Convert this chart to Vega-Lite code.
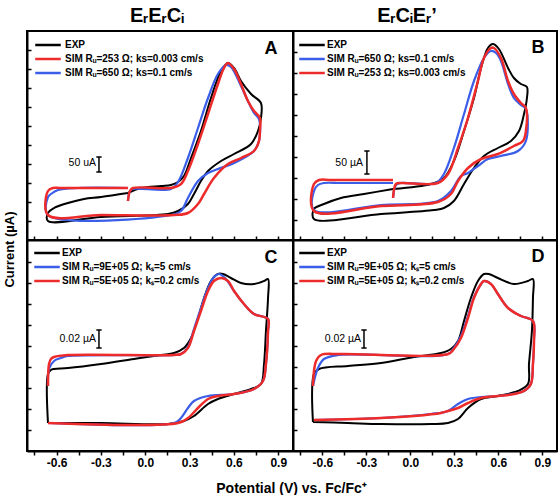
{
  "$schema": "https://vega.github.io/schema/vega-lite/v6.json",
  "padding": {"left": 2, "top": 5, "right": 3, "bottom": 0},
  "config": {
    "font": "Liberation Sans",
    "view": {"stroke": "black", "strokeWidth": 2},
    "line": {"interpolate": "catmull-rom", "strokeJoin": "round"},
    "axis": {"domainColor": "black", "domainWidth": 2, "tickColor": "black", "tickWidth": 1.5, "grid": false, "labelFont": "Liberation Sans", "labelFontWeight": "bold", "labelFontSize": 12, "labelColor": "black", "titleFont": "Liberation Sans", "titleFontWeight": "bold", "titleColor": "black"},
    "legend": {"symbolType": "M-1.7,0H1.7", "symbolSize": 225, "symbolStrokeWidth": 2.5, "rowPadding": 0, "padding": 0, "labelFontSize": 10, "labelFontWeight": "bold", "labelFont": "Liberation Sans", "labelColor": "black", "labelLimit": 300},
    "title": {"font": "Liberation Sans", "fontWeight": "bold", "fontSize": 20, "color": "black", "offset": 5}
  },
  "datasets": {
    "A_exp": [
      {"i":0,"v":-0.117,"c":141},{"i":1,"v":-0.029,"c":156},{"i":2,"v":0.107,"c":162},{"i":3,"v":0.174,"c":165},{"i":4,"v":0.222,"c":174},{"i":5,"v":0.262,"c":192},{"i":6,"v":0.310,"c":246},{"i":7,"v":0.377,"c":327},{"i":8,"v":0.445,"c":426},{"i":9,"v":0.513,"c":507},{"i":10,"v":0.560,"c":531},{"i":11,"v":0.601,"c":516},{"i":12,"v":0.648,"c":477},{"i":13,"v":0.716,"c":438},{"i":14,"v":0.783,"c":411},{"i":15,"v":0.783,"c":366},{"i":16,"v":0.763,"c":327},{"i":17,"v":0.716,"c":288},{"i":18,"v":0.601,"c":258},{"i":19,"v":0.513,"c":237},{"i":20,"v":0.425,"c":207},{"i":21,"v":0.377,"c":177},{"i":22,"v":0.330,"c":138},{"i":23,"v":0.289,"c":108},{"i":24,"v":0.222,"c":87},{"i":25,"v":0.154,"c":78},{"i":26,"v":-0.299,"c":69},{"i":27,"v":-0.658,"c":57},{"i":28,"v":-0.658,"c":81},{"i":29,"v":-0.617,"c":96},{"i":30,"v":-0.523,"c":111},{"i":31,"v":-0.414,"c":123},{"i":32,"v":-0.299,"c":129},{"i":33,"v":-0.117,"c":141}
    ],
    "A_red": [
      {"i":0,"v":-0.117,"c":117},{"i":1,"v":-0.103,"c":147},{"i":2,"v":-0.083,"c":156},{"i":3,"v":0.174,"c":156},{"i":4,"v":0.242,"c":168},{"i":5,"v":0.289,"c":207},{"i":6,"v":0.357,"c":288},{"i":7,"v":0.425,"c":378},{"i":8,"v":0.492,"c":468},{"i":9,"v":0.533,"c":516},{"i":10,"v":0.560,"c":531},{"i":11,"v":0.601,"c":513},{"i":12,"v":0.648,"c":468},{"i":13,"v":0.695,"c":417},{"i":14,"v":0.736,"c":387},{"i":15,"v":0.776,"c":366},{"i":16,"v":0.776,"c":327},{"i":17,"v":0.770,"c":297},{"i":18,"v":0.736,"c":267},{"i":19,"v":0.648,"c":246},{"i":20,"v":0.560,"c":228},{"i":21,"v":0.465,"c":186},{"i":22,"v":0.398,"c":138},{"i":23,"v":0.357,"c":108},{"i":24,"v":0.289,"c":81},{"i":25,"v":0.195,"c":75},{"i":26,"v":-0.299,"c":75},{"i":27,"v":-0.658,"c":75},{"i":28,"v":-0.658,"c":147},{"i":29,"v":-0.624,"c":156},{"i":30,"v":-0.570,"c":156},{"i":31,"v":-0.117,"c":156}
    ],
    "A_blue": [
      {"i":0,"v":-0.117,"c":117},{"i":1,"v":-0.103,"c":147},{"i":2,"v":-0.083,"c":153},{"i":3,"v":0.174,"c":153},{"i":4,"v":0.222,"c":174},{"i":5,"v":0.289,"c":246},{"i":6,"v":0.357,"c":336},{"i":7,"v":0.425,"c":426},{"i":8,"v":0.492,"c":498},{"i":9,"v":0.546,"c":525},{"i":10,"v":0.580,"c":519},{"i":11,"v":0.648,"c":462},{"i":12,"v":0.695,"c":417},{"i":13,"v":0.736,"c":381},{"i":14,"v":0.770,"c":363},{"i":15,"v":0.770,"c":297},{"i":16,"v":0.736,"c":267},{"i":17,"v":0.601,"c":231},{"i":18,"v":0.492,"c":213},{"i":19,"v":0.425,"c":201},{"i":20,"v":0.357,"c":177},{"i":21,"v":0.289,"c":126},{"i":22,"v":0.242,"c":87},{"i":23,"v":0.174,"c":75},{"i":24,"v":-0.658,"c":75},{"i":25,"v":-0.658,"c":129},{"i":26,"v":-0.638,"c":138},{"i":27,"v":-0.590,"c":150},{"i":28,"v":-0.455,"c":156},{"i":29,"v":-0.117,"c":156}
    ],
    "B_exp": [
      {"i":0,"v":-0.118,"c":153},{"i":1,"v":0.141,"c":168},{"i":2,"v":0.229,"c":186},{"i":3,"v":0.297,"c":237},{"i":4,"v":0.366,"c":327},{"i":5,"v":0.434,"c":426},{"i":6,"v":0.482,"c":516},{"i":7,"v":0.529,"c":576},{"i":8,"v":0.563,"c":588},{"i":9,"v":0.604,"c":573},{"i":10,"v":0.666,"c":516},{"i":11,"v":0.706,"c":486},{"i":12,"v":0.754,"c":468},{"i":13,"v":0.795,"c":459},{"i":14,"v":0.795,"c":426},{"i":15,"v":0.775,"c":378},{"i":16,"v":0.741,"c":327},{"i":17,"v":0.686,"c":297},{"i":18,"v":0.597,"c":276},{"i":19,"v":0.502,"c":252},{"i":20,"v":0.434,"c":216},{"i":21,"v":0.366,"c":168},{"i":22,"v":0.297,"c":117},{"i":23,"v":0.229,"c":96},{"i":24,"v":0.161,"c":90},{"i":25,"v":-0.200,"c":78},{"i":26,"v":-0.657,"c":63},{"i":27,"v":-0.657,"c":93},{"i":28,"v":-0.589,"c":108},{"i":29,"v":-0.473,"c":126},{"i":30,"v":-0.316,"c":138},{"i":31,"v":-0.118,"c":153}
    ],
    "B_red": [
      {"i":0,"v":-0.118,"c":126},{"i":1,"v":-0.098,"c":168},{"i":2,"v":-0.064,"c":171},{"i":3,"v":0.188,"c":171},{"i":4,"v":0.257,"c":198},{"i":5,"v":0.325,"c":276},{"i":6,"v":0.393,"c":366},{"i":7,"v":0.461,"c":477},{"i":8,"v":0.502,"c":546},{"i":9,"v":0.550,"c":576},{"i":10,"v":0.570,"c":576},{"i":11,"v":0.618,"c":546},{"i":12,"v":0.666,"c":477},{"i":13,"v":0.706,"c":438},{"i":14,"v":0.754,"c":411},{"i":15,"v":0.788,"c":396},{"i":16,"v":0.788,"c":327},{"i":17,"v":0.768,"c":297},{"i":18,"v":0.706,"c":282},{"i":19,"v":0.597,"c":258},{"i":20,"v":0.482,"c":243},{"i":21,"v":0.393,"c":216},{"i":22,"v":0.325,"c":177},{"i":23,"v":0.277,"c":138},{"i":24,"v":0.188,"c":114},{"i":25,"v":-0.200,"c":102},{"i":26,"v":-0.657,"c":87},{"i":27,"v":-0.657,"c":168},{"i":28,"v":-0.623,"c":180},{"i":29,"v":-0.541,"c":180},{"i":30,"v":-0.118,"c":180}
    ],
    "B_blue": [
      {"i":0,"v":-0.118,"c":126},{"i":1,"v":-0.098,"c":165},{"i":2,"v":-0.064,"c":171},{"i":3,"v":0.175,"c":171},{"i":4,"v":0.229,"c":198},{"i":5,"v":0.297,"c":276},{"i":6,"v":0.366,"c":378},{"i":7,"v":0.434,"c":477},{"i":8,"v":0.502,"c":546},{"i":9,"v":0.550,"c":567},{"i":10,"v":0.584,"c":561},{"i":11,"v":0.618,"c":537},{"i":12,"v":0.666,"c":468},{"i":13,"v":0.706,"c":426},{"i":14,"v":0.754,"c":405},{"i":15,"v":0.788,"c":393},{"i":16,"v":0.788,"c":297},{"i":17,"v":0.734,"c":267},{"i":18,"v":0.618,"c":252},{"i":19,"v":0.529,"c":243},{"i":20,"v":0.461,"c":222},{"i":21,"v":0.393,"c":201},{"i":22,"v":0.345,"c":192},{"i":23,"v":0.277,"c":147},{"i":24,"v":0.188,"c":117},{"i":25,"v":-0.200,"c":105},{"i":26,"v":-0.657,"c":90},{"i":27,"v":-0.657,"c":147},{"i":28,"v":-0.630,"c":165},{"i":29,"v":-0.589,"c":171},{"i":30,"v":-0.473,"c":171},{"i":31,"v":-0.118,"c":171}
    ],
    "C_exp": [
      {"i":0,"v":-0.658,"c":0.028},{"i":1,"v":-0.658,"c":0.077},{"i":2,"v":-0.638,"c":0.081},{"i":3,"v":-0.617,"c":0.082},{"i":4,"v":-0.523,"c":0.083},{"i":5,"v":-0.299,"c":0.087},{"i":6,"v":-0.076,"c":0.092},{"i":7,"v":0.107,"c":0.096},{"i":8,"v":0.195,"c":0.098},{"i":9,"v":0.262,"c":0.103},{"i":10,"v":0.310,"c":0.113},{"i":11,"v":0.357,"c":0.133},{"i":12,"v":0.398,"c":0.153},{"i":13,"v":0.445,"c":0.170},{"i":14,"v":0.492,"c":0.177},{"i":15,"v":0.526,"c":0.177},{"i":16,"v":0.580,"c":0.173},{"i":17,"v":0.648,"c":0.168},{"i":18,"v":0.736,"c":0.167},{"i":19,"v":0.804,"c":0.170},{"i":20,"v":0.831,"c":0.172},{"i":21,"v":0.831,"c":0.153},{"i":22,"v":0.817,"c":0.120},{"i":23,"v":0.804,"c":0.087},{"i":24,"v":0.783,"c":0.067},{"i":25,"v":0.716,"c":0.062},{"i":26,"v":0.601,"c":0.057},{"i":27,"v":0.492,"c":0.052},{"i":28,"v":0.425,"c":0.047},{"i":29,"v":0.330,"c":0.035},{"i":30,"v":0.262,"c":0.030},{"i":31,"v":0.154,"c":0.027},{"i":32,"v":-0.299,"c":0.028},{"i":33,"v":-0.658,"c":0.028}
    ],
    "C_red": [
      {"i":0,"v":-0.658,"c":0.065},{"i":1,"v":-0.651,"c":0.087},{"i":2,"v":-0.638,"c":0.092},{"i":3,"v":-0.617,"c":0.094},{"i":4,"v":-0.523,"c":0.096},{"i":5,"v":0.195,"c":0.096},{"i":6,"v":0.242,"c":0.097},{"i":7,"v":0.289,"c":0.103},{"i":8,"v":0.330,"c":0.120},{"i":9,"v":0.377,"c":0.140},{"i":10,"v":0.425,"c":0.160},{"i":11,"v":0.465,"c":0.170},{"i":12,"v":0.513,"c":0.173},{"i":13,"v":0.560,"c":0.170},{"i":14,"v":0.601,"c":0.160},{"i":15,"v":0.668,"c":0.147},{"i":16,"v":0.736,"c":0.137},{"i":17,"v":0.831,"c":0.132},{"i":18,"v":0.831,"c":0.120},{"i":19,"v":0.817,"c":0.087},{"i":20,"v":0.797,"c":0.070},{"i":21,"v":0.736,"c":0.062},{"i":22,"v":0.601,"c":0.057},{"i":23,"v":0.492,"c":0.055},{"i":24,"v":0.425,"c":0.052},{"i":25,"v":0.357,"c":0.043},{"i":26,"v":0.289,"c":0.033},{"i":27,"v":0.222,"c":0.028},{"i":28,"v":-0.658,"c":0.028}
    ],
    "C_blue": [
      {"i":0,"v":-0.658,"c":0.065},{"i":1,"v":-0.651,"c":0.082},{"i":2,"v":-0.617,"c":0.090},{"i":3,"v":-0.570,"c":0.093},{"i":4,"v":-0.523,"c":0.095},{"i":5,"v":0.195,"c":0.096},{"i":6,"v":0.242,"c":0.097},{"i":7,"v":0.289,"c":0.104},{"i":8,"v":0.330,"c":0.122},{"i":9,"v":0.377,"c":0.143},{"i":10,"v":0.425,"c":0.163},{"i":11,"v":0.465,"c":0.174},{"i":12,"v":0.499,"c":0.177},{"i":13,"v":0.540,"c":0.173},{"i":14,"v":0.601,"c":0.160},{"i":15,"v":0.668,"c":0.147},{"i":16,"v":0.736,"c":0.137},{"i":17,"v":0.831,"c":0.132},{"i":18,"v":0.831,"c":0.120},{"i":19,"v":0.817,"c":0.087},{"i":20,"v":0.797,"c":0.070},{"i":21,"v":0.736,"c":0.062},{"i":22,"v":0.601,"c":0.057},{"i":23,"v":0.425,"c":0.055},{"i":24,"v":0.330,"c":0.050},{"i":25,"v":0.289,"c":0.043},{"i":26,"v":0.242,"c":0.033},{"i":27,"v":0.195,"c":0.028},{"i":28,"v":-0.658,"c":0.028}
    ],
    "D_exp": [
      {"i":0,"v":-0.664,"c":0.029},{"i":1,"v":-0.657,"c":0.077},{"i":2,"v":-0.623,"c":0.082},{"i":3,"v":-0.425,"c":0.085},{"i":4,"v":-0.200,"c":0.088},{"i":5,"v":0.025,"c":0.094},{"i":6,"v":0.209,"c":0.098},{"i":7,"v":0.277,"c":0.102},{"i":8,"v":0.325,"c":0.110},{"i":9,"v":0.366,"c":0.130},{"i":10,"v":0.413,"c":0.153},{"i":11,"v":0.461,"c":0.170},{"i":12,"v":0.502,"c":0.177},{"i":13,"v":0.536,"c":0.177},{"i":14,"v":0.597,"c":0.173},{"i":15,"v":0.706,"c":0.167},{"i":16,"v":0.802,"c":0.170},{"i":17,"v":0.836,"c":0.172},{"i":18,"v":0.836,"c":0.153},{"i":19,"v":0.829,"c":0.120},{"i":20,"v":0.809,"c":0.087},{"i":21,"v":0.802,"c":0.067},{"i":22,"v":0.734,"c":0.060},{"i":23,"v":0.597,"c":0.055},{"i":24,"v":0.482,"c":0.052},{"i":25,"v":0.393,"c":0.043},{"i":26,"v":0.325,"c":0.032},{"i":27,"v":0.257,"c":0.028},{"i":28,"v":0.141,"c":0.027},{"i":29,"v":-0.200,"c":0.027},{"i":30,"v":-0.425,"c":0.028},{"i":31,"v":-0.664,"c":0.029}
    ],
    "D_red": [
      {"i":0,"v":-0.664,"c":0.065},{"i":1,"v":-0.643,"c":0.090},{"i":2,"v":-0.609,"c":0.096},{"i":3,"v":-0.473,"c":0.097},{"i":4,"v":0.257,"c":0.097},{"i":5,"v":0.297,"c":0.102},{"i":6,"v":0.345,"c":0.113},{"i":7,"v":0.393,"c":0.133},{"i":8,"v":0.434,"c":0.153},{"i":9,"v":0.482,"c":0.167},{"i":10,"v":0.502,"c":0.170},{"i":11,"v":0.550,"c":0.167},{"i":12,"v":0.597,"c":0.157},{"i":13,"v":0.666,"c":0.143},{"i":14,"v":0.754,"c":0.135},{"i":15,"v":0.836,"c":0.130},{"i":16,"v":0.843,"c":0.110},{"i":17,"v":0.836,"c":0.087},{"i":18,"v":0.822,"c":0.067},{"i":19,"v":0.775,"c":0.060},{"i":20,"v":0.706,"c":0.057},{"i":21,"v":0.597,"c":0.055},{"i":22,"v":0.482,"c":0.053},{"i":23,"v":0.393,"c":0.048},{"i":24,"v":0.325,"c":0.043},{"i":25,"v":0.257,"c":0.040},{"i":26,"v":0.209,"c":0.038},{"i":27,"v":0.025,"c":0.035},{"i":28,"v":-0.200,"c":0.033},{"i":29,"v":-0.657,"c":0.031}
    ],
    "D_blue": [
      {"i":0,"v":-0.664,"c":0.065},{"i":1,"v":-0.630,"c":0.083},{"i":2,"v":-0.589,"c":0.092},{"i":3,"v":-0.493,"c":0.096},{"i":4,"v":0.257,"c":0.097},{"i":5,"v":0.297,"c":0.103},{"i":6,"v":0.345,"c":0.115},{"i":7,"v":0.393,"c":0.135},{"i":8,"v":0.434,"c":0.154},{"i":9,"v":0.482,"c":0.167},{"i":10,"v":0.502,"c":0.170},{"i":11,"v":0.550,"c":0.167},{"i":12,"v":0.597,"c":0.157},{"i":13,"v":0.666,"c":0.143},{"i":14,"v":0.754,"c":0.135},{"i":15,"v":0.836,"c":0.130},{"i":16,"v":0.843,"c":0.110},{"i":17,"v":0.836,"c":0.087},{"i":18,"v":0.822,"c":0.067},{"i":19,"v":0.775,"c":0.060},{"i":20,"v":0.597,"c":0.055},{"i":21,"v":0.482,"c":0.054},{"i":22,"v":0.393,"c":0.052},{"i":23,"v":0.325,"c":0.047},{"i":24,"v":0.257,"c":0.040},{"i":25,"v":0.141,"c":0.037},{"i":26,"v":-0.200,"c":0.033},{"i":27,"v":-0.657,"c":0.031}
    ],
    "ann": [
      {"p":"A","k":"L","v":0.851,"c":573,"t":"A"},{"p":"A","k":"S","v":-0.333,"c":231,"t":"50 uA"},
      {"p":"B","k":"L","v":0.870,"c":576,"t":"B"},{"p":"B","k":"S","v":-0.323,"c":231,"t":"50 µA"},
      {"p":"C","k":"L","v":0.851,"c":0.193,"t":"C"},{"p":"C","k":"S","v":-0.333,"c":0.112,"t":"0.02 µA"},
      {"p":"D","k":"L","v":0.870,"c":0.194,"t":"D"},{"p":"D","k":"S","v":-0.336,"c":0.112,"t":"0.02 µA"}
    ],
    "bars": [
      {"p":"A","v":-0.313,"v2":-0.313,"c":204,"c2":249},{"p":"A","v":-0.331,"v2":-0.295,"c":204,"c2":204},{"p":"A","v":-0.331,"v2":-0.295,"c":249,"c2":249},
      {"p":"B","v":-0.296,"v2":-0.296,"c":198,"c2":267},{"p":"B","v":-0.314,"v2":-0.278,"c":198,"c2":198},{"p":"B","v":-0.314,"v2":-0.278,"c":267,"c2":267},
      {"p":"C","v":-0.313,"v2":-0.313,"c":0.103,"c2":0.121},{"p":"C","v":-0.331,"v2":-0.295,"c":0.103,"c2":0.103},{"p":"C","v":-0.331,"v2":-0.295,"c":0.121,"c2":0.121},
      {"p":"D","v":-0.316,"v2":-0.316,"c":0.103,"c2":0.121},{"p":"D","v":-0.334,"v2":-0.298,"c":0.103,"c2":0.103},{"p":"D","v":-0.334,"v2":-0.298,"c":0.121,"c2":0.121}
    ]
  },
  "columns": 2,
  "spacing": 0,
  "bounds": "flush",
  "resolve": {"scale": {"x": "independent", "y": "independent", "color": "independent"}, "legend": {"color": "independent"}},
  "concat": [
    {
      "width": 266, "height": 209,
      "title": {"text": "EᵣEᵣCᵢ", "dx": -3},
      "encoding": {
        "x": {"field": "v", "type": "quantitative", "scale": {"domain": [-0.8, 1.0], "nice": false, "zero": false}, "axis": {"values": [-0.75,-0.6,-0.45,-0.3,-0.15,0,0.15,0.3,0.45,0.6,0.75,0.9], "labels": false, "tickSize": -4, "title": null}},
        "y": {"field": "c", "type": "quantitative", "scale": {"domain": [0, 627], "nice": false, "zero": false}, "axis": {"values": [57,114,171,228,285,342,399,456,513,570], "labels": false, "tickSize": -4, "title": "Current (µA)", "titleX": -18, "titleY": 218, "titleAngle": -90, "titleAlign": "center", "titleBaseline": "middle", "titleFontSize": 13}}
      },
      "layer": [
        {"data": {"name": "A_exp"}, "mark": {"type": "line", "strokeWidth": 2}, "encoding": {"order": {"field": "i", "type": "quantitative"}, "color": {"datum": "EXP", "type": "nominal", "scale": {"domain": ["EXP", "SIM Rᵤ=253 Ω; ks=0.003 cm/s", "SIM Rᵤ=650 Ω; ks=0.1 cm/s"], "range": ["#000000", "#ee2b2b", "#3b5ee8"]}, "legend": {"title": null, "orient": "none", "legendX": 12, "legendY": 5, "labelOffset": 8}}}},
        {"data": {"name": "A_blue"}, "mark": {"type": "line", "strokeWidth": 2.2}, "encoding": {"order": {"field": "i", "type": "quantitative"}, "color": {"datum": "SIM Rᵤ=650 Ω; ks=0.1 cm/s", "type": "nominal"}}},
        {"data": {"name": "A_red"}, "mark": {"type": "line", "strokeWidth": 2.5}, "encoding": {"order": {"field": "i", "type": "quantitative"}, "color": {"datum": "SIM Rᵤ=253 Ω; ks=0.003 cm/s", "type": "nominal"}}},
        {"data": {"name": "bars"}, "transform": [{"filter": "datum.p == 'A'"}], "mark": {"type": "rule", "strokeWidth": 1.5, "color": "black"}, "encoding": {"x2": {"field": "v2"}, "y2": {"field": "c2"}}},
        {"data": {"name": "ann"}, "transform": [{"filter": "datum.p == 'A' && datum.k == 'L'"}], "mark": {"type": "text", "fontSize": 18, "fontWeight": "bold", "color": "black", "baseline": "middle"}, "encoding": {"text": {"field": "t"}}},
        {"data": {"name": "ann"}, "transform": [{"filter": "datum.p == 'A' && datum.k == 'S'"}], "mark": {"type": "text", "fontSize": 10.5, "align": "right", "baseline": "middle", "color": "black"}, "encoding": {"text": {"field": "t"}}}
      ]
    },
    {
      "width": 264, "height": 209,
      "title": {"text": "EᵣCᵢEᵣ’", "dx": -18},
      "encoding": {
        "x": {"field": "v", "type": "quantitative", "scale": {"domain": [-0.8, 1.0], "nice": false, "zero": false}, "axis": {"values": [-0.75,-0.6,-0.45,-0.3,-0.15,0,0.15,0.3,0.45,0.6,0.75,0.9], "labels": false, "tickSize": -4, "title": null}},
        "y": {"field": "c", "type": "quantitative", "scale": {"domain": [0, 627], "nice": false, "zero": false}, "axis": {"values": [60,123,186,249,312,375,438,501,564], "labels": false, "tickSize": -4, "title": null}}
      },
      "layer": [
        {"data": {"name": "B_exp"}, "mark": {"type": "line", "strokeWidth": 2}, "encoding": {"order": {"field": "i", "type": "quantitative"}, "color": {"datum": "EXP", "type": "nominal", "scale": {"domain": ["EXP", "SIM Rᵤ=650 Ω; ks=0.1 cm/s", "SIM Rᵤ=253 Ω; ks=0.003 cm/s"], "range": ["#000000", "#3b5ee8", "#ee2b2b"]}, "legend": {"title": null, "orient": "none", "legendX": 10, "legendY": 5, "labelOffset": 6}}}},
        {"data": {"name": "B_blue"}, "mark": {"type": "line", "strokeWidth": 2.2}, "encoding": {"order": {"field": "i", "type": "quantitative"}, "color": {"datum": "SIM Rᵤ=650 Ω; ks=0.1 cm/s", "type": "nominal"}}},
        {"data": {"name": "B_red"}, "mark": {"type": "line", "strokeWidth": 2.5}, "encoding": {"order": {"field": "i", "type": "quantitative"}, "color": {"datum": "SIM Rᵤ=253 Ω; ks=0.003 cm/s", "type": "nominal"}}},
        {"data": {"name": "bars"}, "transform": [{"filter": "datum.p == 'B'"}], "mark": {"type": "rule", "strokeWidth": 1.5, "color": "black"}, "encoding": {"x2": {"field": "v2"}, "y2": {"field": "c2"}}},
        {"data": {"name": "ann"}, "transform": [{"filter": "datum.p == 'B' && datum.k == 'L'"}], "mark": {"type": "text", "fontSize": 18, "fontWeight": "bold", "color": "black", "baseline": "middle"}, "encoding": {"text": {"field": "t"}}},
        {"data": {"name": "ann"}, "transform": [{"filter": "datum.p == 'B' && datum.k == 'S'"}], "mark": {"type": "text", "fontSize": 10.5, "align": "right", "baseline": "middle", "color": "black"}, "encoding": {"text": {"field": "t"}}}
      ]
    },
    {
      "width": 266, "height": 211,
      "encoding": {
        "x": {"field": "v", "type": "quantitative", "scale": {"domain": [-0.8, 1.0], "nice": false, "zero": false}, "axis": {"values": [-0.75,-0.6,-0.45,-0.3,-0.15,0,0.15,0.3,0.45,0.6,0.75,0.9], "tickSize": 4, "labelPadding": 2, "labelOverlap": false, "labelExpr": "abs(round(datum.value*100)) % 30 == 0 ? (datum.value < -0.01 ? '-' : '') + format(abs(datum.value), '.1f') : ''", "title": "Potential (V) vs. Fc/Fc⁺", "titleX": 264, "titleY": 37, "titleAlign": "center", "titleBaseline": "middle", "titleFontSize": 14}},
        "y": {"field": "c", "type": "quantitative", "scale": {"domain": [0, 0.211], "nice": false, "zero": false}, "axis": {"values": [0.021,0.042,0.063,0.084,0.105,0.126,0.147,0.168,0.189], "labels": false, "tickSize": -4, "title": null}}
      },
      "layer": [
        {"data": {"name": "C_exp"}, "mark": {"type": "line", "strokeWidth": 2}, "encoding": {"order": {"field": "i", "type": "quantitative"}, "color": {"datum": "EXP", "type": "nominal", "scale": {"domain": ["EXP", "SIM Rᵤ=9E+05 Ω; kₛ=5 cm/s", "SIM Rᵤ=5E+05 Ω; kₛ=0.2 cm/s"], "range": ["#000000", "#3b5ee8", "#ee2b2b"]}, "legend": {"title": null, "orient": "none", "legendX": 11, "legendY": 4, "labelOffset": 6}}}},
        {"data": {"name": "C_blue"}, "mark": {"type": "line", "strokeWidth": 2.2}, "encoding": {"order": {"field": "i", "type": "quantitative"}, "color": {"datum": "SIM Rᵤ=9E+05 Ω; kₛ=5 cm/s", "type": "nominal"}}},
        {"data": {"name": "C_red"}, "mark": {"type": "line", "strokeWidth": 2.5}, "encoding": {"order": {"field": "i", "type": "quantitative"}, "color": {"datum": "SIM Rᵤ=5E+05 Ω; kₛ=0.2 cm/s", "type": "nominal"}}},
        {"data": {"name": "bars"}, "transform": [{"filter": "datum.p == 'C'"}], "mark": {"type": "rule", "strokeWidth": 1.5, "color": "black"}, "encoding": {"x2": {"field": "v2"}, "y2": {"field": "c2"}}},
        {"data": {"name": "ann"}, "transform": [{"filter": "datum.p == 'C' && datum.k == 'L'"}], "mark": {"type": "text", "fontSize": 18, "fontWeight": "bold", "color": "black", "baseline": "middle"}, "encoding": {"text": {"field": "t"}}},
        {"data": {"name": "ann"}, "transform": [{"filter": "datum.p == 'C' && datum.k == 'S'"}], "mark": {"type": "text", "fontSize": 10.5, "align": "right", "baseline": "middle", "color": "black"}, "encoding": {"text": {"field": "t"}}}
      ]
    },
    {
      "width": 264, "height": 211,
      "encoding": {
        "x": {"field": "v", "type": "quantitative", "scale": {"domain": [-0.8, 1.0], "nice": false, "zero": false}, "axis": {"values": [-0.75,-0.6,-0.45,-0.3,-0.15,0,0.15,0.3,0.45,0.6,0.75,0.9], "tickSize": 4, "labelPadding": 2, "labelOverlap": false, "labelExpr": "abs(round(datum.value*100)) % 30 == 0 ? (datum.value < -0.01 ? '-' : '') + format(abs(datum.value), '.1f') : ''", "title": null}},
        "y": {"field": "c", "type": "quantitative", "scale": {"domain": [0, 0.211], "nice": false, "zero": false}, "axis": {"values": [0.021,0.042,0.063,0.084,0.105,0.126,0.147,0.168,0.189], "labels": false, "tickSize": -4, "title": null}}
      },
      "layer": [
        {"data": {"name": "D_exp"}, "mark": {"type": "line", "strokeWidth": 2}, "encoding": {"order": {"field": "i", "type": "quantitative"}, "color": {"datum": "EXP", "type": "nominal", "scale": {"domain": ["EXP", "SIM Rᵤ=9E+05 Ω; kₛ=5 cm/s", "SIM Rᵤ=5E+05 Ω; kₛ=0.2 cm/s"], "range": ["#000000", "#3b5ee8", "#ee2b2b"]}, "legend": {"title": null, "orient": "none", "legendX": 10, "legendY": 4, "labelOffset": 6}}}},
        {"data": {"name": "D_blue"}, "mark": {"type": "line", "strokeWidth": 2.2}, "encoding": {"order": {"field": "i", "type": "quantitative"}, "color": {"datum": "SIM Rᵤ=9E+05 Ω; kₛ=5 cm/s", "type": "nominal"}}},
        {"data": {"name": "D_red"}, "mark": {"type": "line", "strokeWidth": 2.5}, "encoding": {"order": {"field": "i", "type": "quantitative"}, "color": {"datum": "SIM Rᵤ=5E+05 Ω; kₛ=0.2 cm/s", "type": "nominal"}}},
        {"data": {"name": "bars"}, "transform": [{"filter": "datum.p == 'D'"}], "mark": {"type": "rule", "strokeWidth": 1.5, "color": "black"}, "encoding": {"x2": {"field": "v2"}, "y2": {"field": "c2"}}},
        {"data": {"name": "ann"}, "transform": [{"filter": "datum.p == 'D' && datum.k == 'L'"}], "mark": {"type": "text", "fontSize": 18, "fontWeight": "bold", "color": "black", "baseline": "middle"}, "encoding": {"text": {"field": "t"}}},
        {"data": {"name": "ann"}, "transform": [{"filter": "datum.p == 'D' && datum.k == 'S'"}], "mark": {"type": "text", "fontSize": 10.5, "align": "right", "baseline": "middle", "color": "black"}, "encoding": {"text": {"field": "t"}}}
      ]
    }
  ]
}
